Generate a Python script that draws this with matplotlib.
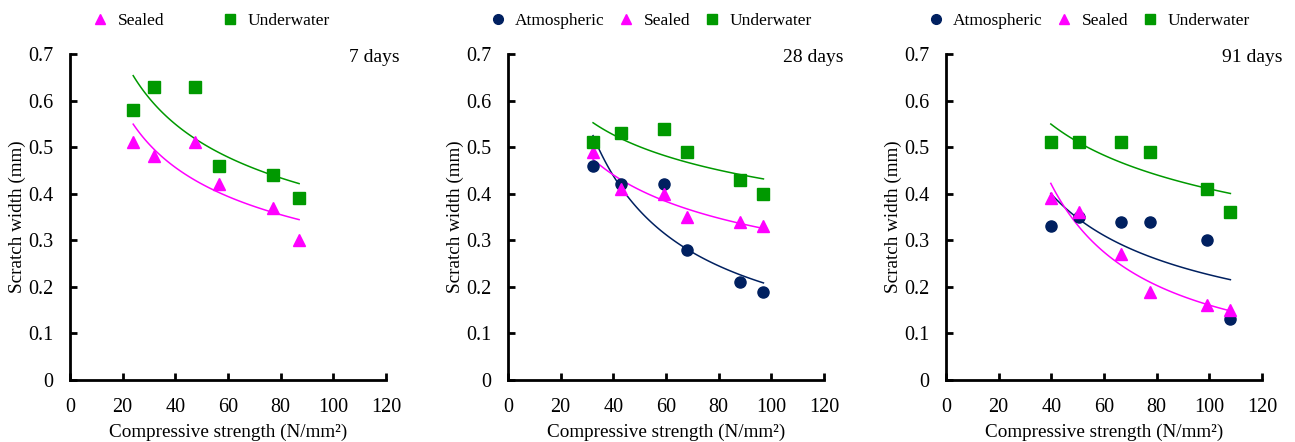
import matplotlib.pyplot as plt
import numpy as np
from matplotlib.lines import Line2D

plt.rcParams['font.family'] = ['Liberation Serif', 'DejaVu Serif']

# 7 days
x7 = [24, 32, 47.5, 56.5, 77, 87]
sealed7 = [0.51, 0.48, 0.51, 0.42, 0.37, 0.30]
under7 = [0.58, 0.63, 0.63, 0.46, 0.44, 0.39]

# 28 days
x28 = [32.3, 42.8, 59.2, 68.1, 88.1, 97]
atmos28 = [0.46, 0.42, 0.42, 0.28, 0.21, 0.19]
sealed28 = [0.49, 0.41, 0.40, 0.35, 0.34, 0.33]
under28 = [0.51, 0.53, 0.54, 0.49, 0.43, 0.40]

# 91 days
x91 = [39.8, 50.5, 66.6, 77.6, 99, 108]
atmos91 = [0.33, 0.35, 0.34, 0.34, 0.30, 0.13]
sealed91 = [0.39, 0.36, 0.27, 0.19, 0.16, 0.15]
under91 = [0.51, 0.51, 0.51, 0.49, 0.41, 0.36]

C_ATM = '#002060'
C_SEA = '#ff00ff'
C_UND = '#009900'

panels = [
    ('7 days', x7, [(None, None, None, None), ('Sealed', sealed7, C_SEA, '^'), ('Underwater', under7, C_UND, 's')]),
    ('28 days', x28, [('Atmospheric', atmos28, C_ATM, 'o'), ('Sealed', sealed28, C_SEA, '^'), ('Underwater', under28, C_UND, 's')]),
    ('91 days', x91, [('Atmospheric', atmos91, C_ATM, 'o'), ('Sealed', sealed91, C_SEA, '^'), ('Underwater', under91, C_UND, 's')]),
]

fig = plt.figure(figsize=(12.95, 4.42), dpi=100)
lefts = [70, 508, 946]
title_x = [1.044, 1.063, 1.066]
legend_x = [0.063, -0.066, -0.066]

for (title, xs, series), left, tx, lx in zip(panels, lefts, title_x, legend_x):
    ax = fig.add_axes([left / 1295, 62 / 442, 316 / 1295, 326 / 442])
    xs = np.array(xs)
    handles = []
    for name, ys, col, mk in series:
        if name is None:
            continue
        ys = np.array(ys)
        ax.plot(xs, ys, linestyle='none', marker=mk, color=col, markersize=8.5 if mk != 'o' else 8, zorder=3)
        # power trendline y = a * x^b
        b, lna = np.polyfit(np.log(xs), np.log(ys), 1)
        xf = np.linspace(xs.min(), xs.max(), 100)
        ax.plot(xf, np.exp(lna) * xf ** b, color=col, linewidth=1.1, zorder=2)
        handles.append(Line2D([], [], linestyle='none', marker=mk, color=col, markersize=7, label=name))

    ax.set_xlim(0, 120)
    ax.set_ylim(0, 0.7)
    ax.set_xticks(range(0, 121, 20))
    ax.set_yticks(np.arange(0, 0.71, 0.1))
    ax.set_yticklabels(['0'] + ['%.1f' % v for v in np.arange(0.1, 0.71, 0.1)])
    ax.spines['top'].set_visible(False)
    ax.spines['right'].set_visible(False)
    for s in ('left', 'bottom'):
        ax.spines[s].set_linewidth(2)
        ax.spines[s].set_color('black')
    ax.tick_params(direction='in', length=5, width=2, labelsize=14.5)
    ax.tick_params(axis='x', pad=13)
    ax.tick_params(axis='y', pad=12)
    ax.set_xlabel('Compressive strength (N/mm²)', fontsize=13.8, labelpad=5)
    ax.set_ylabel('Scratch width (mm)', fontsize=13.8, labelpad=1.5)
    ax.text(tx, 0.988, title, transform=ax.transAxes, ha='right', va='center', fontsize=14)

    if len(handles) == 2:
        ax.legend(handles=handles, loc='center left', bbox_to_anchor=(lx, 1.10), ncol=2,
                  frameon=False, fontsize=12.5, handletextpad=0.4, columnspacing=3.2,
                  handlelength=1.2, borderaxespad=0, borderpad=0)
    else:
        ax.legend(handles=handles, loc='center left', bbox_to_anchor=(lx, 1.10), ncol=3,
                  frameon=False, fontsize=12.5, handletextpad=0.4, columnspacing=0.65,
                  handlelength=1.2, borderaxespad=0, borderpad=0)

fig.savefig('out.png', dpi=100)
